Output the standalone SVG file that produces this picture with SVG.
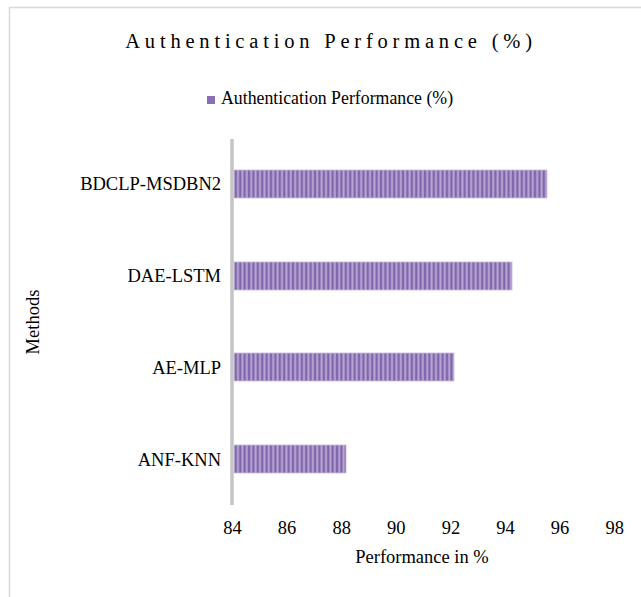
<svg xmlns="http://www.w3.org/2000/svg" width="641" height="597" viewBox="0 0 641 597">
<defs>
<pattern id="stripes" patternUnits="userSpaceOnUse" x="234" y="0" width="4.4" height="10">
<rect x="0" y="0" width="4.4" height="10" fill="#b9a7d3"/>
<rect x="0.6" y="0" width="2.4" height="10" fill="#8066ac"/>
</pattern>
</defs>
<style>
text{font-family:"Liberation Serif","Times New Roman",serif;fill:#000}
.t{font-size:18.5px}
.bar{fill:url(#stripes);stroke:#c8bbdc;stroke-width:0.8}
</style>
<rect x="0" y="0" width="641" height="597" fill="#fff"/>
<path d="M9.5 597 V7.5 H641" fill="none" stroke="#d9d9d9" stroke-width="1.5"/>
<text x="331" y="48" text-anchor="middle" font-size="20.5" letter-spacing="4.8">Authentication Performance (%)</text>
<g id="legend">
<rect x="207" y="96" width="8" height="8" fill="#8a70b2"/>
<text x="221" y="103.5" font-size="17.8">Authentication Performance (%)</text>
</g>
<g id="bars">
<rect class="bar" x="234" y="170" width="313" height="28"/>
<rect class="bar" x="234" y="262" width="278" height="28"/>
<rect class="bar" x="234" y="353" width="220" height="28"/>
<rect class="bar" x="234" y="445" width="112" height="28"/>
</g>
<g id="axis">
<line x1="232" y1="139" x2="232" y2="505" stroke="#c4c4c4" stroke-width="3.5"/>
</g>
<g id="cats" class="t" text-anchor="end">
<text x="221" y="190">BDCLP-MSDBN2</text>
<text x="221" y="282">DAE-LSTM</text>
<text x="221" y="374">AE-MLP</text>
<text x="221" y="466">ANF-KNN</text>
</g>
<g id="ticks" class="t" text-anchor="middle">
<text x="232.5" y="534">84</text>
<text x="287.1" y="534">86</text>
<text x="341.7" y="534">88</text>
<text x="396.3" y="534">90</text>
<text x="450.9" y="534">92</text>
<text x="505.5" y="534">94</text>
<text x="560.1" y="534">96</text>
<text x="614.7" y="534">98</text>
</g>
<text class="t" x="422" y="563" text-anchor="middle">Performance in %</text>
<text class="t" transform="translate(39 322) rotate(-90)" text-anchor="middle">Methods</text>
</svg>
